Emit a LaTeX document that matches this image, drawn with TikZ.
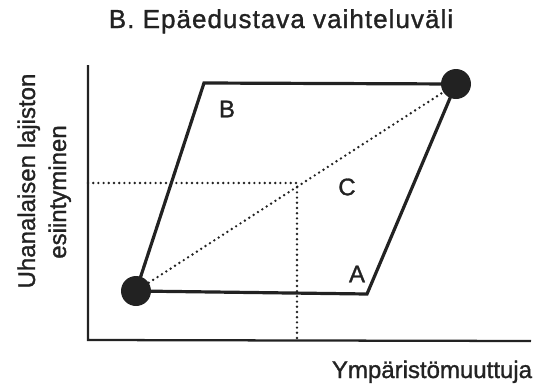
\documentclass[tikz,border=0pt]{standalone}
\usepackage{fontspec}
\setmainfont{Liberation Sans}
\newfontfamily\titlefont{Liberation Sans}[LetterSpace=4,FakeBold=1.2]
\newfontfamily\lblfont{Liberation Sans}[FakeBold=1.2]
\definecolor{ink}{HTML}{222222}
\begin{document}
\begin{tikzpicture}[x=0.75pt,y=-0.75pt,
  axisline/.style={draw=ink,line width=1.7pt},
  shapeline/.style={draw=ink,line width=2.4pt,line join=miter},
  dotline/.style={draw=ink,line width=2pt,line cap=round,dash pattern=on 0pt off 3.9pt},
  blob/.style={circle,fill=ink,inner sep=0pt,minimum size=22.5pt},
  lbl/.style={text=ink,font=\lblfont\fontsize{18pt}{20pt}\selectfont},
  ttl/.style={text=ink,font=\titlefont\fontsize{19.5pt}{21pt}\selectfont}]
\useasboundingbox (0,0) rectangle (537,387);
% axes
\coordinate (ytop) at (88,65);
\coordinate (origin) at (88,340);
\coordinate (xend) at (531,341);
\draw[axisline] (ytop) -- (origin) -- (xend);
% corners
\coordinate (pB) at (204,83);
\coordinate (pA) at (367,294);
\coordinate (hcut) at (88,183);
\coordinate (mid) at (297,183);
\coordinate (vcut) at (297,340);
\node[blob] (lo) at (136,291) {};
\node[blob] (hi) at (456,84) {};
% dotted guides
\draw[dotline] (lo) -- (hi);
\draw[dotline] (hcut) -- (mid) -- (vcut);
% parallelogram
\draw[shapeline] (lo.center) -- (pB) -- (hi.center) -- (pA) -- cycle;
% labels
\node[lbl] (lB) at (227,109) {B};
\node[lbl] (lC) at (347,187) {C};
\node[lbl] (lA) at (357,274) {A};
\node[ttl,anchor=base] (title) at (281,28) {B. Epäedustava vaihteluväli};
\node[lbl,anchor=base] (xlab) at (432,378) {Ympäristömuuttuja};
\node[lbl,anchor=base,rotate=90] (ylab1) at (35,181) {Uhanalaisen lajiston};
\node[lbl,anchor=base,rotate=90] (ylab2) at (66,192) {esiintyminen};
\end{tikzpicture}
\end{document}
